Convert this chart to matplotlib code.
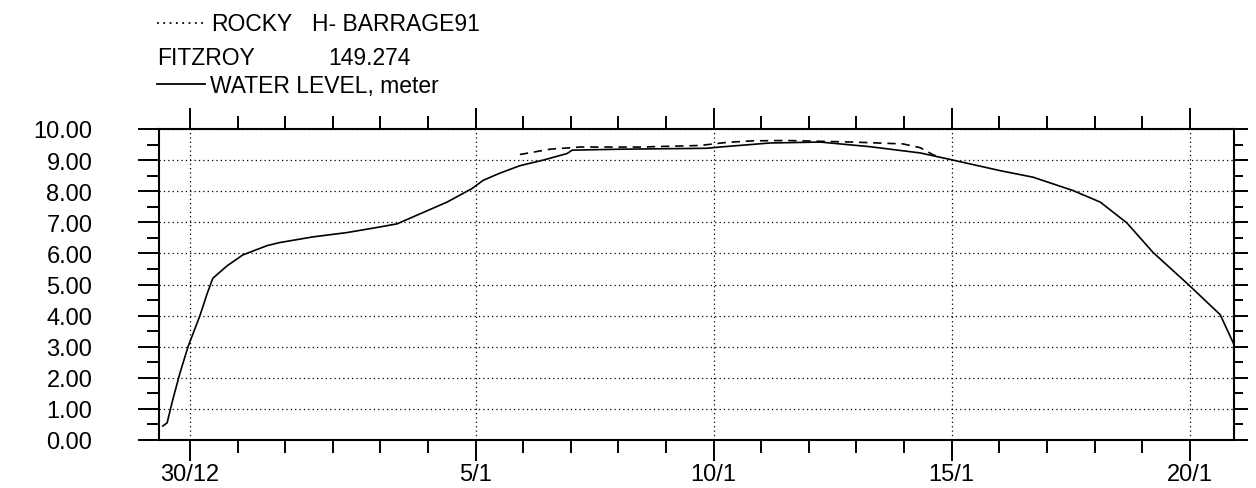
import matplotlib.pyplot as plt
from matplotlib.lines import Line2D
from matplotlib.ticker import FixedLocator, MultipleLocator

plt.rcParams['font.family'] = ['Liberation Sans', 'DejaVu Sans']

# time axis: days counted from 30 Dec
level_days = [-0.57, -0.48, -0.36, -0.21, -0.04, 0.21, 0.36, 0.48, 0.78, 1.11,
              1.62, 1.89, 2.58, 3.30, 3.99, 4.35, 4.83, 5.40, 5.92, 6.16,
              6.51, 6.93, 7.42, 7.92, 8.03, 9.03, 10.86, 11.13, 12.18, 13.24,
              14.29, 15.34, 15.97, 17.02, 17.71, 18.55, 19.12, 19.68, 20.23, 20.97,
              21.64, 21.93]
level_m = [0.45, 0.55, 1.30, 2.15, 3.00, 4.00, 4.70, 5.20, 5.60, 5.95,
           6.25, 6.35, 6.53, 6.67, 6.85, 6.95, 7.27, 7.65, 8.08, 8.35,
           8.58, 8.82, 9.00, 9.21, 9.32, 9.35, 9.38, 9.42, 9.55, 9.58,
           9.43, 9.23, 9.02, 8.66, 8.45, 8.02, 7.65, 6.98, 6.03, 5.00,
           4.03, 3.07]

rocky_days = [6.93, 7.56, 8.19, 9.45, 10.71, 11.28, 11.83, 12.54, 13.93, 14.98,
              15.34, 15.61, 15.76]
rocky_m = [9.18, 9.35, 9.42, 9.42, 9.47, 9.57, 9.62, 9.63, 9.58, 9.52,
           9.40, 9.17, 9.08]

date_ticks = [0, 6, 11, 16, 21]
date_labels = ['30/12', '5/1', '10/1', '15/1', '20/1']
level_ticks = [0, 1, 2, 3, 4, 5, 6, 7, 8, 9, 10]

W, H = 1256, 489
fig = plt.figure(figsize=(W / 100, H / 100), dpi=100)
ax = fig.add_axes([159 / W, 1 - 441 / H, (1234 - 159) / W, (441 - 130) / H])

ax.plot(level_days, level_m, color='black', lw=1.2, zorder=3)
ax.plot(rocky_days, rocky_m, color='black', lw=1.2, ls=(0, (5, 3.5)), zorder=3)

ax.set_xlim(-0.65, 21.93)
ax.set_ylim(0, 10)

ax.xaxis.set_major_locator(FixedLocator(date_ticks))
ax.xaxis.set_minor_locator(MultipleLocator(1))
ax.set_xticklabels(date_labels)
ax.yaxis.set_major_locator(FixedLocator(level_ticks))
ax.yaxis.set_minor_locator(MultipleLocator(0.5))
ax.set_yticklabels([f'{v:.2f}' for v in level_ticks])

for s in ax.spines.values():
    s.set_linewidth(1.5)

ax.tick_params(axis='x', which='both', top=True, bottom=True, direction='out',
               width=1.4, labelsize=17, pad=1.5)
ax.tick_params(axis='x', which='major', length=15)
ax.tick_params(axis='x', which='minor', length=9.5)
ax.tick_params(axis='y', which='both', left=True, right=False, direction='out',
               width=1.4, labelsize=17, pad=33)
ax.tick_params(axis='y', which='major', length=15)
ax.tick_params(axis='y', which='minor', length=8.5)

# right-hand scale with shorter ticks
ax_r = ax.twinx()
ax_r.set_ylim(0, 10)
ax_r.yaxis.set_major_locator(FixedLocator(level_ticks))
ax_r.yaxis.set_minor_locator(MultipleLocator(0.5))
ax_r.tick_params(axis='y', which='both', direction='out', width=1.4, labelright=False)
ax_r.tick_params(axis='y', which='major', length=10)
ax_r.tick_params(axis='y', which='minor', length=6.5)
for s in ax_r.spines.values():
    s.set_visible(False)

ax.grid(True, which='major', color='black', lw=0.9, ls=(0, (1, 2.5)))

# header / legend block
def px(x, y):
    return x / W, 1 - y / H

fig.add_artist(Line2D([157 / W, 207 / W], [1 - 24 / H] * 2, color='black',
                      lw=1.3, ls=(0, (1, 2.5))))
fig.add_artist(Line2D([157 / W, 205 / W], [1 - 85 / H] * 2, color='black', lw=1.3))
hdr = dict(fontsize=16.5, va='baseline', ha='left')
fig.text(*px(211, 31), 'ROCKY', **hdr)
fig.text(*px(312, 31), 'H- BARRAGE91', **hdr)
fig.text(*px(157, 65), 'FITZROY', **hdr)
fig.text(*px(328, 65), '149.274', **hdr)
fig.text(*px(210, 93), 'WATER LEVEL, meter', **hdr)

fig.savefig('out.png', dpi=100)
